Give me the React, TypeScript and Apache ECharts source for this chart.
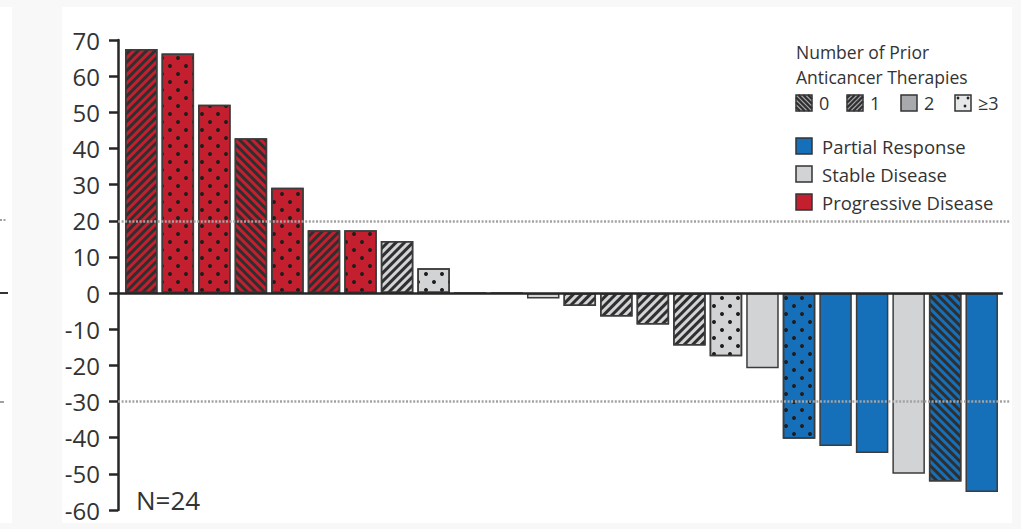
import React, { useEffect, useRef } from "react";
import * as echarts from "echarts";

// ---- data ----
const patients = Array.from({ length: 24 }, (_, i) => `P${i + 1}`);
const percentChange = [
  67.5, 66.3, 52.1, 42.8, 29.1, 17.4, 17.4, 14.4, 6.9, 0, 0, -1.5,
  -3.6, -6.5, -8.7, -14.5, -17.5, -20.8, -40.3, -42.3, -44.2, -50, -52.1, -55,
];
// PR = partial response, SD = stable disease, PD = progressive disease
const bestResponse = [
  "PD", "PD", "PD", "PD", "PD", "PD", "PD", "SD", "SD", "SD", "SD", "SD",
  "SD", "SD", "SD", "SD", "SD", "SD", "PR", "PR", "PR", "SD", "PR", "PR",
];
// number of prior therapies: 0, 1, 2, 3 (= ≥3)
const priorTherapies = [
  1, 3, 3, 0, 3, 1, 3, 1, 3, 2, 2, 2,
  1, 1, 1, 1, 3, 2, 3, 2, 2, 2, 0, 2,
];
const yTicks = { min: -60, max: 70, interval: 10 };
const upperThreshold = 20;
const lowerThreshold = -30;
const therapyLegend = ["0", "1", "2", "≥3"];
const responseLegend = ["Partial Response", "Stable Disease", "Progressive Disease"];

const FONT = "Open Sans";
const TEXT = "#333333";
const respColor: Record<string, string> = {
  PR: "#1670b9",
  SD: "#d2d3d5",
  PD: "#c41f2e",
};
const legendColors = [respColor.PR, respColor.SD, respColor.PD];

const stripe = (rot: number) => ({
  symbol: "rect",
  symbolSize: 1,
  color: "#2f2f2f",
  dashArrayX: [1, 0],
  dashArrayY: [2.8, 2.8],
  rotation: rot,
});
const decals: Record<number, any> = {
  0: stripe(Math.PI / 4),
  1: stripe(-Math.PI / 4),
  3: {
    symbol: "circle",
    symbolSize: 1,
    color: "#1e1e1e",
    dashArrayX: [[4, 12], [0, 8, 4, 4]],
    dashArrayY: [4, 4],
    rotation: 0,
  },
};

function swatchLines(x0: number, y0: number, s: number, kind: number) {
  const out: any[] = [];
  const st = { stroke: "#2f2f2f", lineWidth: 2.2 };
  if (kind === 0) {
    for (let d = -12; d <= 12; d += 4.8) {
      const p = d >= 0 ? [[d, 0], [s, s - d]] : [[0, -d], [s + d, s]];
      out.push({ type: "line", shape: { x1: x0 + p[0][0], y1: y0 + p[0][1], x2: x0 + p[1][0], y2: y0 + p[1][1] }, style: st, silent: true });
    }
  } else if (kind === 1) {
    for (let sm = 3; sm <= 2 * s - 3; sm += 4.8) {
      const p = sm <= s ? [[sm, 0], [0, sm]] : [[s, sm - s], [sm - s, s]];
      out.push({ type: "line", shape: { x1: x0 + p[0][0], y1: y0 + p[0][1], x2: x0 + p[1][0], y2: y0 + p[1][1] }, style: st, silent: true });
    }
  } else if (kind === 3) {
    [[3, 3], [13, 3], [10, 11]].forEach(([cx, cy]) =>
      out.push({ type: "circle", shape: { cx: x0 + cx, cy: y0 + cy, r: 1.4 }, style: { fill: "#222" }, silent: true })
    );
  }
  return out;
}

export default function App() {
  const ref = useRef<HTMLDivElement>(null);
  useEffect(() => {
    if (!ref.current) return;
    const chart = echarts.init(ref.current, null, { renderer: "svg" });

    const barData = percentChange.map((v, i) => ({
      value: v,
      itemStyle: {
        color: respColor[bestResponse[i]],
        decal: decals[priorTherapies[i]] || "none",
      },
    }));

    const graphics: any[] = [
      // page background frame
      { type: "rect", shape: { x: 0, y: 0, width: 1021, height: 529 }, style: { fill: "#f8f8f8" }, z: -10, silent: true },
      { type: "rect", shape: { x: 62, y: 7, width: 950, height: 516 }, style: { fill: "#ffffff" }, z: -9, silent: true },
      { type: "rect", shape: { x: 0, y: 7, width: 12, height: 516 }, style: { fill: "#ffffff" }, z: -9, silent: true },
      // stray marks on left edge
      { type: "line", shape: { x1: 0, y1: 220, x2: 7, y2: 220 }, style: { stroke: "#a0a0a0", lineWidth: 2, lineDash: [2, 1.5] }, silent: true },
      { type: "line", shape: { x1: 0, y1: 293, x2: 8, y2: 293 }, style: { stroke: "#333", lineWidth: 2 }, silent: true },
      { type: "line", shape: { x1: 0, y1: 402, x2: 4, y2: 402 }, style: { stroke: "#a0a0a0", lineWidth: 2 }, silent: true },
      // N label
      { type: "text", x: 136, y: 500, style: { text: "N=24", font: `26px '${FONT}'`, fill: TEXT, verticalAlign: "middle" }, silent: true },
      // legend title
      { type: "text", x: 796, y: 52, style: { text: "Number of Prior", font: `17.5px '${FONT}'`, fill: TEXT, verticalAlign: "middle" }, silent: true },
      { type: "text", x: 796, y: 77, style: { text: "Anticancer Therapies", font: `17.5px '${FONT}'`, fill: TEXT, verticalAlign: "middle" }, silent: true },
    ];

    const therapyX = [796, 847, 901, 955];
    therapyLegend.forEach((lab, k) => {
      const x0 = therapyX[k];
      const y0 = 95;
      const s = 16;
      const fill = k === 3 ? "#e6e7e8" : "#a7a9ac";
      graphics.push({ type: "rect", shape: { x: x0, y: y0, width: s, height: s }, style: { fill }, silent: true });
      graphics.push(...swatchLines(x0, y0, s, k));
      graphics.push({ type: "rect", shape: { x: x0, y: y0, width: s, height: s }, style: { fill: "none", stroke: "#333", lineWidth: 1.5 }, silent: true });
      graphics.push({ type: "text", x: x0 + 23, y: y0 + 8, style: { text: lab, font: `18px '${FONT}'`, fill: TEXT, verticalAlign: "middle" }, silent: true });
    });

    const respY = [146, 174, 202];
    responseLegend.forEach((lab, k) => {
      graphics.push({ type: "rect", shape: { x: 796, y: respY[k] - 8, width: 16, height: 16 }, style: { fill: legendColors[k], stroke: "#333", lineWidth: 1.5 }, silent: true });
      graphics.push({ type: "text", x: 822, y: respY[k], style: { text: lab, font: `18.5px '${FONT}'`, fill: TEXT, verticalAlign: "middle" }, silent: true });
    });

    const option: any = {
      animation: false,
      backgroundColor: "transparent",
      grid: [
        { left: 123, right: 21, top: 40, bottom: 19 },
        { left: 118, right: 11, top: 40, bottom: 19 },
      ],
      xAxis: [
        { type: "category", gridIndex: 0, data: patients, show: false },
        { type: "value", gridIndex: 1, min: 0, max: 100, show: false },
      ],
      yAxis: [
        {
          type: "value",
          gridIndex: 0,
          min: yTicks.min,
          max: yTicks.max,
          interval: yTicks.interval,
          offset: 5,
          axisLine: { show: true, lineStyle: { color: "#262626", width: 2.5 } },
          axisTick: { show: true, inside: false, length: 9, lineStyle: { color: "#262626", width: 2.5 } },
          splitLine: { show: false },
          axisLabel: { fontSize: 24, fontFamily: FONT, color: TEXT, margin: 18 },
        },
        { type: "value", gridIndex: 1, min: yTicks.min, max: yTicks.max, show: false },
      ],
      series: [
        {
          type: "bar",
          xAxisIndex: 0,
          yAxisIndex: 0,
          data: barData,
          barWidth: "89%",
          itemStyle: { borderColor: "#3c3c3c", borderWidth: 1.5 },
          z: 2,
        },
        {
          type: "scatter",
          xAxisIndex: 1,
          yAxisIndex: 1,
          data: [[0, 0]],
          symbolSize: 0,
          silent: true,
          z: 5,
          markLine: {
            silent: true,
            symbol: "none",
            label: { show: false },
            data: [
              { yAxis: upperThreshold, lineStyle: { color: "#a3a3a3", width: 2.5, type: [2, 1.6] } },
              { yAxis: lowerThreshold, lineStyle: { color: "#a3a3a3", width: 2.5, type: [2, 1.6] } },
              [
                { coord: [0, 0], lineStyle: { color: "#262626", width: 2.5, type: "solid" } },
                { coord: [99.2, 0] },
              ],
            ],
          },
        },
      ],
      graphic: graphics,
    };
    chart.setOption(option);
    return () => chart.dispose();
  }, []);
  return (
    <div
      ref={ref}
      style={{ position: "absolute", left: 0, top: 0, width: 1021, height: 529 }}
    />
  );
}
